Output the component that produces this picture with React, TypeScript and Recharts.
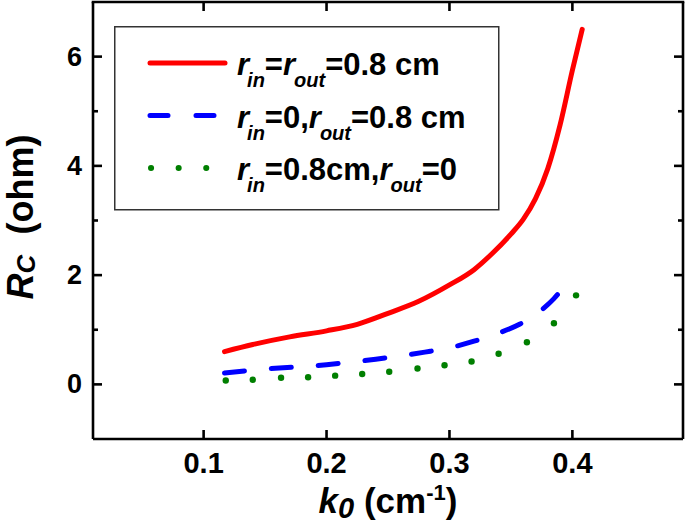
import React from 'react';
import { LineChart, Line, XAxis, YAxis, Legend } from 'recharts';

// ---- data ----
const kRed = [0.117, 0.14, 0.17, 0.2, 0.225, 0.25, 0.275, 0.3, 0.32, 0.335, 0.35, 0.36, 0.37, 0.38, 0.39, 0.4, 0.408];
const rRed = [0.6, 0.73, 0.87, 0.98, 1.1, 1.3, 1.52, 1.82, 2.1, 2.4, 2.75, 3.02, 3.4, 3.95, 4.75, 5.75, 6.5];

const kBlue = [0.117, 0.15, 0.2, 0.24, 0.28, 0.3, 0.32, 0.34, 0.357, 0.377, 0.385, 0.393];
const rBlue = [0.21, 0.28, 0.36, 0.46, 0.59, 0.67, 0.79, 0.94, 1.1, 1.4, 1.57, 1.78];

const kGreen = [0.118, 0.14, 0.163, 0.185, 0.207, 0.229, 0.251, 0.274, 0.296, 0.318, 0.34, 0.363, 0.385, 0.403];
const rGreen = [0.07, 0.085, 0.12, 0.13, 0.16, 0.19, 0.23, 0.29, 0.35, 0.42, 0.56, 0.77, 1.12, 1.63];

const xTicks = [0.1, 0.2, 0.3, 0.4];
const xTickLabels = ['0.1', '0.2', '0.3', '0.4'];
const yTicks = [0, 1, 2, 3, 4, 5, 6];
const yTickLabels = ['0', '', '2', '', '4', '', '6'];
const xDomain = [0.01, 0.49];
const yDomain = [-1, 7];

const redData = kRed.map((k, i) => ({ k, r: rRed[i] }));
const blueData = kBlue.map((k, i) => ({ k, r: rBlue[i] }));
const greenData = kGreen.map((k, i) => ({ k, r: rGreen[i] }));

const FONT = '"Liberation Sans", Arial, Helvetica, sans-serif';
const AXW = 2.6;

// chart geometry (plot box follows from these)
const W = 685;
const H = 524;
const MARGIN = { top: 2, right: 2, bottom: 0, left: 0 };
const YAXIS_W = 93;
const XAXIS_H = 85;
const PL = MARGIN.left + YAXIS_W;
const PR = W - MARGIN.right;
const PT = MARGIN.top;
const PB = H - MARGIN.bottom - XAXIS_H;
const sx = (v: number) => PL + ((v - xDomain[0]) / (xDomain[1] - xDomain[0])) * (PR - PL);
const sy = (v: number) => PB - ((v - yDomain[0]) / (yDomain[1] - yDomain[0])) * (PB - PT);

type Part = { t: string; it?: boolean; fs?: number; off?: number; dx?: number };

function RichText({ x, y, parts, size, transform, anchor }: any) {
  let cur = 0;
  const nodes = (parts as Part[]).map((p, i) => {
    const target = p.off || 0;
    const dy = target - cur;
    cur = target;
    return (
      <tspan key={i} dy={dy} dx={p.dx || 0} fontStyle={p.it ? 'italic' : 'normal'} fontSize={p.fs || size}>
        {p.t}
      </tspan>
    );
  });
  return (
    <text
      x={x}
      y={y}
      fontFamily={FONT}
      fontWeight="bold"
      fill="#000"
      fontSize={size}
      textAnchor={anchor || 'start'}
      transform={transform}
      style={{ whiteSpace: 'pre' }}
    >
      {nodes}
    </text>
  );
}

const BottomTick = (p: any) => {
  const i = xTicks.indexOf(p.payload.value);
  return (
    <g>
      <line x1={p.x} x2={p.x} y1={p.y} y2={p.y - 9} stroke="#000" strokeWidth={AXW} />
      <text x={p.x} y={p.y + 34} textAnchor="middle" fontFamily={FONT} fontWeight="bold" fontSize={29} fill="#000">
        {i >= 0 ? xTickLabels[i] : ''}
      </text>
    </g>
  );
};

const LeftTick = (p: any) => {
  const i = yTicks.indexOf(p.payload.value);
  const label = i >= 0 ? yTickLabels[i] : '';
  const len = label ? 9 : 5;
  return (
    <g>
      <line x1={p.x} x2={p.x + len} y1={p.y} y2={p.y} stroke="#000" strokeWidth={AXW} />
      {label ? (
        <text x={p.x - 11} y={p.y + 9} textAnchor="end" fontFamily={FONT} fontWeight="bold" fontSize={27} fill="#000">
          {label}
        </text>
      ) : null}
    </g>
  );
};

const series = [
  { name: 'a', color: '#ff0000', dash: undefined as string | undefined, width: 5 },
  { name: 'b', color: '#0000ff', dash: '20 27', width: 5 },
  { name: 'c', color: '#007f00', dash: '0.1 27.5', width: 6 },
];

const SUB = 20;
const SOFF = 12;
const legendTexts: Part[][] = [
  [
    { t: 'r', it: true },
    { t: 'in', it: true, fs: SUB, off: SOFF, dx: -2 },
    { t: '=' },
    { t: 'r', it: true },
    { t: 'out', it: true, fs: SUB, off: SOFF, dx: -1 },
    { t: '=0.8 cm' },
  ],
  [
    { t: 'r', it: true },
    { t: 'in', it: true, fs: SUB, off: SOFF, dx: -2 },
    { t: '=0,' },
    { t: 'r', it: true },
    { t: 'out', it: true, fs: SUB, off: SOFF, dx: -1 },
    { t: '=0.8 cm' },
  ],
  [
    { t: 'r', it: true },
    { t: 'in', it: true, fs: SUB, off: SOFF, dx: -2 },
    { t: '=0.8cm,' },
    { t: 'r', it: true },
    { t: 'out', it: true, fs: SUB, off: SOFF, dx: -1 },
    { t: '=0' },
  ],
];

const LEG_X = 114;
const LEG_Y = 26;

// Legend overlay: the legend box plus the mirrored top/right frame with inward ticks
const LegendAndFrame = () => (
  <svg width={W} height={H} style={{ display: 'block', pointerEvents: 'none' }}>
    <line x1={PL - AXW / 2} x2={PR + AXW / 2} y1={PT} y2={PT} stroke="#000" strokeWidth={AXW} />
    <line x1={PR} x2={PR} y1={PT} y2={PB} stroke="#000" strokeWidth={AXW} />
    {xTicks.map((t) => (
      <line key={'tt' + t} x1={sx(t)} x2={sx(t)} y1={PT} y2={PT + 9} stroke="#000" strokeWidth={AXW} />
    ))}
    {yTicks.map((t, i) => (
      <line
        key={'rt' + t}
        x1={PR}
        x2={PR - (yTickLabels[i] ? 9 : 5)}
        y1={sy(t)}
        y2={sy(t)}
        stroke="#000"
        strokeWidth={AXW}
      />
    ))}
    <g transform={`translate(${LEG_X}, ${LEG_Y})`}>
      <rect x={0.75} y={0.75} width={384} height={183} fill="#fff" stroke="#333" strokeWidth={1.5} />
      {series.map((s, i) => {
        const yy = 37 + i * 52.5;
        return (
          <g key={s.name}>
            <line
              x1={i === 2 ? 37 : 36}
              x2={i === 2 ? 100 : 111}
              y1={yy}
              y2={yy}
              stroke={s.color}
              strokeWidth={s.width}
              strokeLinecap="round"
              strokeDasharray={i === 1 ? '18 28' : s.dash}
            />
            <RichText x={123} y={yy + 12} size={31} parts={legendTexts[i]} />
          </g>
        );
      })}
    </g>
  </svg>
);

const YLabel = () => (
  <RichText
    x={33}
    y={217}
    anchor="middle"
    size={36}
    transform="rotate(-90, 33, 217)"
    parts={[{ t: 'R', it: true }, { t: 'C', it: true, fs: 26, off: 2 }, { t: '  (ohm)' }] as Part[]}
  />
);

const XLabel = () => (
  <RichText
    x={388}
    y={513}
    anchor="middle"
    size={35}
    parts={[
      { t: 'k', it: true },
      { t: '0', it: true, fs: 29, off: 5 },
      { t: ' (cm' },
      { t: '-1', fs: 22, off: -13 },
      { t: ')' },
    ] as Part[]}
  />
);

export default function App() {
  return (
    <div style={{ position: 'absolute', left: 0, top: 0, width: W, height: H, background: '#fff' }}>
      <LineChart width={W} height={H} margin={MARGIN}>
        <XAxis
          dataKey="k"
          type="number"
          domain={xDomain}
          ticks={xTicks}
          allowDataOverflow
          height={XAXIS_H}
          tickSize={0}
          tickMargin={0}
          tickLine={false}
          axisLine={{ stroke: '#000', strokeWidth: AXW }}
          tick={(p: any) => <BottomTick {...p} />}
          label={{ content: () => <XLabel /> }}
        />
        <YAxis
          type="number"
          domain={yDomain}
          ticks={yTicks}
          allowDataOverflow
          width={YAXIS_W}
          tickSize={0}
          tickMargin={0}
          tickLine={false}
          axisLine={{ stroke: '#000', strokeWidth: AXW }}
          tick={(p: any) => <LeftTick {...p} />}
          label={{ content: () => <YLabel /> }}
        />
        <Legend
          layout="vertical"
          align="center"
          verticalAlign="middle"
          wrapperStyle={{ left: 0, top: 0, width: W, height: H, pointerEvents: 'none' }}
          content={() => <LegendAndFrame />}
        />
        <Line
          data={redData}
          dataKey="r"
          type="monotone"
          stroke={series[0].color}
          strokeWidth={series[0].width}
          strokeLinecap="round"
          dot={false}
          isAnimationActive={false}
        />
        <Line
          data={blueData}
          dataKey="r"
          type="monotone"
          stroke={series[1].color}
          strokeWidth={series[1].width}
          strokeDasharray={series[1].dash}
          strokeLinecap="round"
          dot={false}
          isAnimationActive={false}
        />
        <Line
          data={greenData}
          dataKey="r"
          type="monotone"
          stroke="none"
          strokeWidth={0}
          dot={{ r: 3.2, fill: series[2].color, stroke: 'none' }}
          isAnimationActive={false}
        />
      </LineChart>
    </div>
  );
}
